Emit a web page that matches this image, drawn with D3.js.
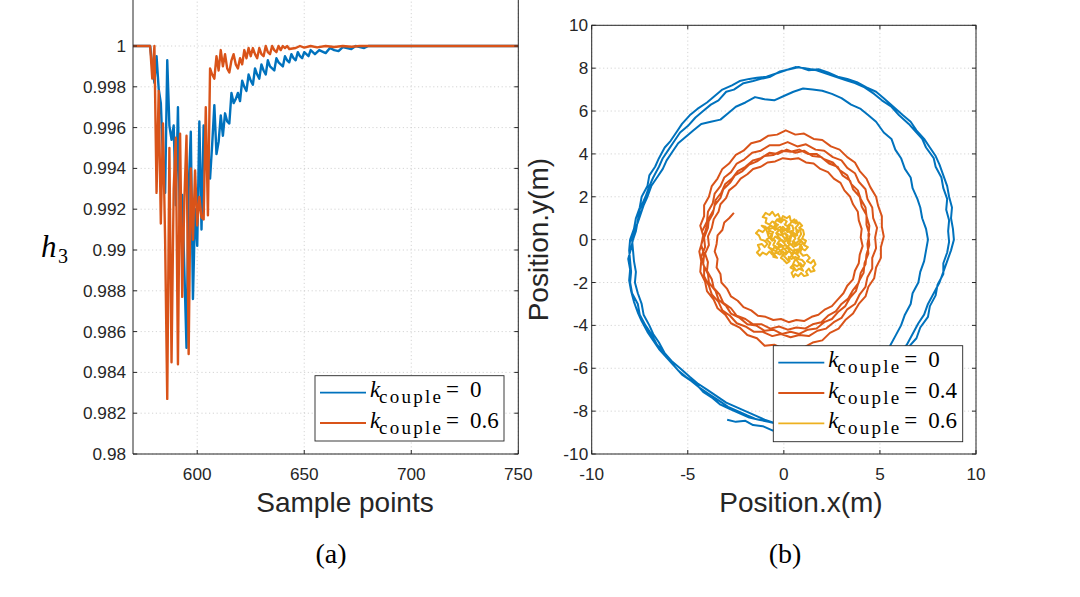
<!DOCTYPE html>
<html><head><meta charset="utf-8">
<script src="https://cdn.jsdelivr.net/npm/d3@7/dist/d3.min.js"></script>
<style>body{margin:0;background:#fff}svg{display:block}</style>
</head><body>
<svg id="c" width="1080" height="597"></svg>
<script>
// ---------- data ----------
const sampleTicks = [600, 650, 700, 750];
const h3Ticks = [0.98, 0.982, 0.984, 0.986, 0.988, 0.99, 0.992, 0.994, 0.996, 0.998, 1];
const h3TickLabels = ["0.98","0.982","0.984","0.986","0.988","0.99","0.992","0.994","0.996","0.998","1"];
const posXTicks = [-10, -5, 0, 5, 10];
const posXTickLabels = ["-10","-5","0","5","10"];
const posYTicks = [-10, -8, -6, -4, -2, 0, 2, 4, 6, 8, 10];
const posYTickLabels = ["-10","-8","-6","-4","-2","0","2","4","6","8","10"];

// h3 vs sample points, k_couple = 0
const h3K0 = [[570,1],[578,1],[579,0.9990],[580,0.9982],[581,0.9995],[582,0.9979],[583,0.9972],[584,0.9945],[585,0.9928],[586,0.9993],[587,0.9961],[588,0.9954],[589,0.9961],[590,0.9922],[591,0.9970],[592,0.9905],[593,0.9927],[594,0.9890],[595,0.9852],[596,0.9930],[597,0.9958],[598,0.9876],[599,0.9920],[600,0.9902],[601,0.9963],[602,0.9910],[603,0.9961],[604,0.9940],[605,0.9948],[606,0.9935],[607,0.9952],[608,0.9971],[609,0.9947],[610,0.9953],[611,0.9966],[612,0.9956],[613,0.9967],[614,0.9963],[615,0.9962],[616,0.9977],[617,0.9972],[618,0.9974],[619,0.9977],[620,0.9973],[621,0.9983],[622,0.9980],[623,0.9978],[624,0.9986],[625,0.9983],[626,0.9981],[627,0.9989],[628,0.9986],[629,0.9984],[630,0.9991],[631,0.9988],[632,0.9986],[633,0.9993],[634,0.9990],[635,0.9989],[636,0.9988],[637,0.9994],[638,0.9992],[639,0.9991],[640,0.9990],[641,0.9995],[642,0.9993],[643,0.9992],[644,0.9996],[645,0.9994],[646,0.9993],[647,0.9997],[648,0.9995],[649,0.9994],[650,0.9997],[651,0.9996],[652,0.9995],[653,0.9998],[654,0.9997],[655,0.9996],[657,0.9998],[658,0.99975],[660,0.99965],[662,0.9999],[664,0.9998],[666,0.99975],[668,0.99995],[670,0.9999],[672,0.99985],[674,1.0],[676,0.99995],[678,0.9999],[680,1.0],[750,1.0]];
// h3 vs sample points, k_couple = 0.6
const h3K06 = [[570,1],[578,1],[579,0.9984],[580,1.0],[581,0.9928],[582,0.9978],[583,0.9913],[584,0.9962],[585,0.9905],[586,0.9827],[587,0.9950],[588,0.9845],[589,0.9930],[590,0.9955],[591,0.9844],[592,0.9957],[593,0.9877],[594,0.9925],[595,0.9956],[596,0.9849],[597,0.9940],[598,0.9905],[599,0.9939],[600,0.9912],[601,0.9926],[602,0.9916],[603,0.9915],[604,0.9970],[605,0.9917],[606,0.9989],[607,0.9986],[608,0.9984],[609,0.9995],[610,0.9988],[611,0.9998],[612,0.9990],[613,0.9996],[614,0.9989],[615,0.9987],[616,0.9993],[617,0.9996],[618,0.9991],[619,0.9989],[620,0.9994],[621,0.9991],[622,0.9998],[623,0.9994],[624,0.9999],[625,0.9995],[626,0.9999],[627,0.9996],[628,0.9994],[629,0.9999],[630,0.9996],[631,0.9995],[632,1.0],[633,0.9997],[634,0.9996],[635,1.0],[636,0.9998],[637,0.9997],[638,1.0],[639,0.9998],[640,1.0],[641,0.9999],[642,1.0],[643,0.99985],[646,0.9999],[648,1.0],[650,0.99992],[653,1.0],[656,0.99993],[660,1.0],[664,0.99995],[668,1.0],[672,0.99996],[676,1.0],[750,1.0]];

// trajectory, k_couple = 0 (x, y in metres)
const trajK0 = [[-2.95,-8.4],[-2.5,-8.5],[-2.0,-8.45],[-1.6,-8.65],[-1.1,-8.7],[-0.6,-8.9],[-0.1,-8.85],[0.4,-9.0],[0.9,-8.95],[1.4,-8.8],[1.9,-8.7],[2.4,-8.4],[2.9,-8.25],[3.3,-7.9],[3.8,-7.7],[4.2,-7.3],[4.7,-7.0],[5.1,-6.6],[5.5,-6.3],[5.9,-5.8],[6.2,-5.5],[6.5,-5.0],[6.9,-4.6],[7.1,-4.1],[7.5,-3.6],[7.6,-3.1],[7.9,-2.6],[8.0,-2.1],[8.3,-1.6],[8.3,-1.1],[8.5,-0.6],[8.6,-0.1],[8.55,0.4],[8.6,0.9],[8.45,1.4],[8.5,1.9],[8.3,2.4],[8.2,2.9],[7.9,3.4],[7.8,3.8],[7.4,4.3],[7.2,4.7],[6.8,5.1],[6.5,5.4],[6.0,5.8],[5.6,6.2],[5.1,6.5],[4.7,6.8],[4.2,7.1],[3.7,7.3],[3.2,7.45],[2.7,7.6],[2.2,7.75],[1.7,7.9],[1.1,8.0],[0.6,8.05],[0.1,7.9],[-0.4,7.75],[-0.9,7.6],[-1.4,7.55],[-1.8,7.5],[-2.3,7.4],[-2.7,7.2],[-3.2,7.0],[-3.6,6.7],[-4.0,6.4],[-4.5,6.1],[-4.9,5.8],[-5.3,5.4],[-5.6,5.0],[-5.9,4.6],[-6.2,4.3],[-6.5,3.8],[-6.7,3.4],[-7.0,3.0],[-7.1,2.5],[-7.4,2.0],[-7.5,1.5],[-7.7,1.0],[-7.8,0.5],[-8.0,0.0],[-8.05,-0.5],[-8.0,-1.0],[-7.95,-1.5],[-8.0,-2.0],[-7.9,-2.5],[-7.6,-3.0],[-7.5,-3.5],[-7.2,-4.0],[-6.9,-4.4],[-6.6,-4.9],[-6.3,-5.2],[-5.9,-5.7],[-5.5,-6.1],[-5.1,-6.4],[-4.6,-6.7],[-4.2,-7.1],[-3.7,-7.4],[-3.3,-7.7],[-2.8,-7.9],[-2.3,-8.1],[-1.8,-8.3],
 [-1.3,-8.4],[-0.8,-8.5],[-0.3,-8.6],[0.2,-8.65],[0.7,-8.6],[1.2,-8.5],[1.7,-8.3],[2.2,-8.1],[2.7,-7.8],[3.1,-7.5],[3.6,-7.1],[4.0,-6.8],[4.4,-6.3],[4.8,-5.9],[5.2,-5.4],[5.5,-5.0],[5.8,-4.5],[6.1,-4.0],[6.3,-3.5],[6.6,-3.0],[6.7,-2.5],[7.0,-2.0],[7.1,-1.5],[7.3,-1.0],[7.4,-0.5],[7.5,0.0],[7.4,0.5],[7.2,1.0],[7.1,1.5],[6.95,1.9],[6.7,2.4],[6.6,2.9],[6.3,3.3],[6.1,3.8],[5.8,4.2],[5.6,4.7],[5.2,5.0],[4.8,5.5],[4.4,5.8],[4.0,6.1],[3.5,6.3],[3.0,6.6],[2.5,6.8],[2.0,6.95],[1.5,7.0],[1.0,7.05],[0.5,6.9],[0.0,6.7],[-0.5,6.5],[-1.0,6.55],[-1.5,6.65],[-2.0,6.4],[-2.5,6.2],[-2.9,5.9],[-3.3,5.6],[-3.8,5.5],[-4.3,5.4],[-4.7,5.1],[-5.1,4.8],[-5.5,4.5],[-5.8,4.1],[-6.1,3.7],[-6.3,3.3],[-6.6,2.9],[-6.9,2.5],[-7.1,2.0],[-7.3,1.6],[-7.45,1.2],[-7.6,0.8],[-7.8,0.4],[-7.9,0.0],[-7.85,-0.5],[-7.8,-1.0],[-7.7,-1.5],[-7.75,-2.0],[-7.6,-2.5],[-7.4,-3.0],[-7.3,-3.5],[-7.0,-4.0],[-6.8,-4.4],[-6.5,-4.8],[-6.2,-5.3],[-5.8,-5.7],[-5.4,-6.0],[-4.9,-6.4],[-4.5,-6.7],[-4.0,-7.0],[-3.5,-7.3],[-3.0,-7.6],[-2.5,-7.8],[-2.0,-8.0],[-1.5,-8.2],
 [-1.0,-8.4],[-0.5,-8.55],[0.0,-8.75],[0.5,-8.8],[1.0,-8.7],[1.5,-8.6],[2.0,-8.5],[2.5,-8.3],[3.0,-8.0],[3.5,-7.7],[4.0,-7.4],[4.4,-7.0],[4.9,-6.6],[5.3,-6.2],[5.7,-5.8],[6.0,-5.3],[6.4,-4.9],[6.7,-4.4],[7.0,-3.9],[7.3,-3.5],[7.5,-3.0],[7.8,-2.5],[8.1,-2.0],[8.3,-1.5],[8.5,-1.0],[8.7,-0.5],[8.85,0.0],[8.8,0.5],[8.7,1.0],[8.75,1.5],[8.6,2.0],[8.5,2.5],[8.3,3.0],[8.1,3.5],[7.9,3.9],[7.6,4.3],[7.3,4.7],[6.9,5.1],[6.6,5.5],[6.2,5.8],[5.7,6.2],[5.2,6.6],[4.8,6.9],[4.3,7.1],[3.8,7.35],[3.3,7.5],[2.8,7.6],[2.3,7.8],[1.8,7.95],[1.3,7.9],[0.8,8.05],[0.3,7.95],[-0.2,7.85],[-0.7,7.6],[-1.2,7.5],[-1.6,7.4],[-2.1,7.3],[-2.6,7.0],[-3.0,6.9],[-3.4,6.5],[-3.8,6.3],[-4.2,6.0],[-4.6,5.7],[-5.0,5.3],[-5.4,5.0],[-5.7,4.6],[-6.0,4.2],[-6.3,3.8],[-6.5,3.4],[-6.8,2.9],[-7.0,2.5],[-7.2,2.0],[-7.5,1.4],[-7.6,0.9],[-7.7,0.4],[-7.85,0.0],[-7.95,-0.4],[-8.1,-0.9],[-8.0,-1.4],[-8.05,-1.9],[-7.95,-2.4],[-7.8,-2.9],[-7.6,-3.4],[-7.4,-3.8],[-7.1,-4.3],[-6.8,-4.7],[-6.5,-5.1],[-6.1,-5.5],[-5.7,-5.9],[-5.3,-6.3],[-4.8,-6.6],[-4.4,-6.9],[-3.9,-7.2],[-3.4,-7.5],[-2.9,-7.8],[-2.4,-8.0],[-1.9,-8.2],[-1.5,-8.35]];

// trajectory, k_couple = 0.4
const trajK04 = [[-2.6,1.25],[-2.85,1.0],[-3.1,0.8],[-3.2,0.45],[-3.45,0.2],[-3.5,-0.2],[-3.6,-0.55],[-3.45,-0.9],[-3.5,-1.3],[-3.3,-1.6],[-3.25,-2.0],[-2.95,-2.3],[-2.75,-2.65],[-2.4,-2.85],[-2.1,-3.15],[-1.7,-3.3],[-1.35,-3.55],[-0.95,-3.6],[-0.55,-3.75],[-0.15,-3.7],[0.25,-3.85],[0.65,-3.75],[1.05,-3.8],[1.45,-3.6],[1.8,-3.5],[2.15,-3.25],[2.5,-3.1],[2.8,-2.8],[3.1,-2.5],[3.3,-2.15],[3.6,-1.85],[3.7,-1.45],[3.9,-1.1],[3.95,-0.7],[4.1,-0.3],[4.0,0.1],[4.05,0.5],[3.9,0.9],[3.85,1.3],[3.6,1.65],[3.45,2.0],[3.15,2.3],[2.95,2.65],[2.6,2.85],[2.3,3.15],[1.9,3.3],[1.55,3.55],[1.15,3.6],[0.75,3.8],[0.35,3.75],[-0.05,3.8],[-0.45,3.65],[-0.85,3.6],[-1.2,3.4],[-1.6,3.3],[-1.9,3.05],[-2.25,2.85],[-2.5,2.55],[-2.85,2.3],[-3.0,1.95],[-3.3,1.65],[-3.4,1.3],[-3.65,0.95],
 [-3.75,0.55],[-3.95,0.15],[-3.9,-0.25],[-4.1,-0.65],[-3.95,-1.05],[-4.0,-1.45],[-3.75,-1.85],[-3.65,-2.25],[-3.35,-2.55],[-3.15,-2.95],[-2.75,-3.2],[-2.45,-3.55],[-2.0,-3.7],[-1.6,-3.95],[-1.15,-3.95],[-0.7,-4.15],[-0.25,-4.05],[0.2,-4.2],[0.65,-4.1],[1.1,-4.15],[1.5,-3.95],[1.95,-3.85],[2.3,-3.55],[2.7,-3.35],[3.0,-3.0],[3.35,-2.75],[3.6,-2.35],[3.9,-2.0],[4.0,-1.55],[4.25,-1.15],[4.3,-0.7],[4.45,-0.25],[4.4,0.2],[4.45,0.65],[4.3,1.1],[4.25,1.5],[4.0,1.9],[3.85,2.3],[3.5,2.6],[3.3,3.0],[2.9,3.25],[2.55,3.6],[2.1,3.75],[1.7,4.0],[1.25,4.0],[0.8,4.2],[0.35,4.1],[-0.1,4.15],[-0.55,3.95],[-1.0,3.9],[-1.4,3.65],[-1.8,3.5],[-2.15,3.2],[-2.55,3.0],[-2.8,2.65],[-3.15,2.35],[-3.3,1.95],[-3.6,1.6],[-3.7,1.2],[-3.95,0.8],
 [-4.1,0.35],[-4.25,-0.1],[-4.4,-0.55],[-4.3,-1.0],[-4.35,-1.5],[-4.1,-1.95],[-4.0,-2.4],[-3.65,-2.8],[-3.45,-3.2],[-3.05,-3.5],[-2.75,-3.9],[-2.3,-4.1],[-1.9,-4.45],[-1.4,-4.6],[-1.0,-4.95],[-0.5,-4.9],[0.0,-5.1],[0.5,-5.0],[1.0,-5.05],[1.5,-4.8],[2.0,-4.7],[2.4,-4.35],[2.85,-4.15],[3.2,-3.75],[3.6,-3.45],[3.9,-3.0],[4.25,-2.65],[4.4,-2.2],[4.7,-1.8],[4.8,-1.3],[5.05,-0.85],[5.05,-0.35],[5.2,0.15],[5.1,0.6],[5.1,1.1],[4.9,1.6],[4.8,2.0],[4.5,2.45],[4.3,2.85],[3.95,3.2],[3.7,3.6],[3.3,3.85],[2.9,4.2],[2.45,4.35],[2.0,4.65],[1.55,4.7],[1.05,4.95],[0.6,4.9],[0.1,5.1],[-0.35,4.9],[-0.8,4.85],[-1.25,4.6],[-1.7,4.5],[-2.1,4.15],[-2.5,3.95],[-2.85,3.55],[-3.2,3.3],[-3.45,2.85],[-3.75,2.5],[-3.9,2.0],[-4.15,1.6],[-4.15,1.1],[-4.35,0.65],
 [-4.2,0.2],[-4.3,-0.25],[-4.15,-0.7],[-4.2,-1.15],[-3.95,-1.6],[-3.9,-2.0],[-3.55,-2.4],[-3.4,-2.8],[-3.0,-3.1],[-2.75,-3.45],[-2.3,-3.65],[-1.9,-3.95],[-1.45,-4.0],[-1.0,-4.25],[-0.55,-4.2],[-0.1,-4.4],[0.35,-4.3],[0.8,-4.4],[1.25,-4.2],[1.7,-4.15],[2.1,-3.85],[2.5,-3.7],[2.85,-3.35],[3.2,-3.1],[3.45,-2.7],[3.75,-2.4],[3.9,-1.95],[4.15,-1.55],[4.2,-1.1],[4.4,-0.65],[4.35,-0.2],[4.45,0.25],[4.3,0.7],[4.3,1.15],[4.05,1.55],[3.95,2.0],[3.6,2.35],[3.45,2.75],[3.05,3.0],[2.8,3.4],[2.35,3.55],[1.95,3.85],[1.5,3.9],[1.05,4.15],[0.6,4.05],[0.15,4.2],[-0.3,4.0],[-0.75,4.05],[-1.2,3.8],[-1.6,3.7],[-2.0,3.4],[-2.4,3.2],[-2.7,2.85],[-3.05,2.6],[-3.25,2.2],[-3.55,1.85],[-3.65,1.4],[-3.9,1.0],
 [-3.95,0.55],[-4.15,0.1],[-4.1,-0.35],[-4.3,-0.8],[-4.15,-1.25],[-4.15,-1.7],[-3.9,-2.15],[-3.75,-2.55],[-3.4,-2.9],[-3.2,-3.3],[-2.8,-3.55],[-2.45,-3.9],[-2.0,-4.05],[-1.55,-4.3],[-1.1,-4.3],[-0.6,-4.5],[-0.15,-4.4],[0.35,-4.55],[0.8,-4.45],[1.3,-4.5],[1.75,-4.25],[2.2,-4.15],[2.6,-3.85],[3.0,-3.65],[3.3,-3.25],[3.7,-3.0],[3.95,-2.55],[4.25,-2.2],[4.35,-1.75],[4.6,-1.35],[4.6,-0.85],[4.8,-0.4],[4.75,0.1],[4.85,0.55],[4.65,1.0],[4.6,1.5],[4.35,1.9],[4.25,2.35],[3.9,2.7],[3.7,3.1],[3.3,3.35],[3.0,3.7],[2.55,3.85],[2.1,4.15],[1.65,4.2],[1.15,4.45],[0.7,4.35],[0.2,4.55],[-0.25,4.4],[-0.75,4.4],[-1.2,4.15],[-1.65,4.05],[-2.05,3.75],[-2.45,3.55],[-2.75,3.15],[-3.1,2.9],[-3.3,2.5],[-3.6,2.15],[-3.7,1.7],[-3.95,1.3],[-4.0,0.85],[-4.25,0.4]];

// trajectory, k_couple = 0.6
const trajK06 = [[0.0,0.0],[0.15,0.1],[0.1,0.3],[-0.1,0.25],[-0.2,0.45],[-0.05,0.6],[0.1,0.45],[0.3,0.5],[0.25,0.7],[0.45,0.65],[0.5,0.45],[0.35,0.3],[0.5,0.15],[0.7,0.2],[0.65,0.4],[0.85,0.45],[0.9,0.25],[0.75,0.05],[0.9,-0.1],[0.7,-0.25],[0.55,-0.1],[0.4,-0.25],[0.2,-0.15],[0.25,0.05],[0.05,-0.1],[-0.15,0.0],[-0.3,-0.15],[-0.2,-0.35],[-0.4,-0.4],[-0.55,-0.25],[-0.45,-0.05],[-0.65,0.05],[-0.6,0.25],[-0.8,0.3],[-0.75,0.5],[-0.55,0.55],[-0.4,0.75],[-0.6,0.85],[-0.75,0.7],[-0.95,0.8],[-0.9,1.0],[-1.1,1.05],[-0.95,1.25],[-0.75,1.15],[-0.6,1.3],[-0.45,1.1],[-0.3,1.2],[-0.2,1.0],[-0.35,0.9],[-0.15,0.8],[0.0,0.95],[0.15,0.85],[0.05,0.7],[0.25,0.6],[0.4,0.85],[0.55,0.95],[0.6,0.75],[0.8,0.8],[0.95,0.65],[0.8,0.55],[1.0,0.45],[1.05,0.25],[0.95,0.05],[1.15,-0.05],[1.05,-0.25],[1.25,-0.35],[1.1,-0.5],[0.9,-0.4],[0.75,-0.55],[0.55,-0.45],[0.45,-0.65],[0.25,-0.55],[0.1,-0.7],[-0.05,-0.55],[-0.2,-0.7],[-0.4,-0.6],[-0.6,-0.7],[-0.75,-0.55],[-0.9,-0.7],[-1.1,-0.6],[-1.25,-0.75],[-1.4,-0.6],[-1.25,-0.45],[-1.35,-0.25],[-1.15,-0.2],[-1.0,-0.35],[-0.85,-0.2],[-1.0,-0.05],[-1.2,0.0],[-1.3,0.2],[-1.45,0.3],[-1.3,0.45],[-1.1,0.35],[-0.95,0.5],[-1.15,0.65],[-0.95,0.6],[-0.8,0.15],[-0.6,-0.05],[-0.45,0.15],[-0.3,0.05],[-0.35,0.3],[-0.15,0.2],[0.05,0.3],[0.2,0.2],[0.15,-0.05],[0.35,-0.05],[0.3,0.15],[0.5,0.3],[0.6,0.05],[0.45,-0.1],[0.6,-0.3],[0.8,-0.2],[0.95,-0.35],[0.85,-0.6],[1.0,-0.75],[1.2,-0.7],[1.35,-0.85],[1.2,-1.0],[1.4,-1.1],[1.55,-0.95],[1.65,-1.15],[1.5,-1.3],[1.6,-1.45],[1.4,-1.5],[1.3,-1.35],[1.15,-1.5],[1.25,-1.65],[1.05,-1.7],[0.9,-1.55],[0.75,-1.7],[0.6,-1.6],[0.5,-1.75],[0.4,-1.55],[0.55,-1.4],[0.35,-1.3],[0.5,-1.15],[0.7,-1.25],[0.85,-1.1],[1.0,-1.25],[1.1,-1.1],[0.95,-0.95],[0.75,-0.9],[0.6,-0.8],[0.4,-0.9],[0.25,-0.8],[0.3,-1.0],[0.15,-1.1],[0.0,-0.95],[-0.15,-0.85],[-0.05,-0.7],[0.15,-0.55],[0.0,-0.4],[-0.15,-0.5],[-0.3,-0.6],[-0.5,-0.5],[-0.7,-0.4],[-0.55,-0.65],[-0.35,-0.85],[-0.55,-0.8],[-0.35,-0.45],[-0.2,-0.2],[-0.05,-0.3],[0.1,-0.25],[0.3,-0.4],[0.5,-0.55],[0.7,-0.45],[0.65,-0.65],[0.8,-0.8],[0.55,-1.0],[0.45,-1.2],[0.65,-1.45],[0.8,-1.35],[1.0,-1.45],
 [0.85,-1.2],[0.7,-1.0],[0.5,-0.85],[0.35,-0.6],[0.2,-0.4],[0.05,-0.2],[-0.1,-0.05],[-0.25,0.1],[-0.4,0.3],[-0.25,0.45],[-0.45,0.55],[-0.3,0.7],[-0.5,0.75],[-0.35,0.95],[-0.15,0.9],[-0.05,1.1],[0.15,1.0],[0.3,1.1],[0.35,0.9],[0.5,0.8],[0.65,0.9],[0.75,0.7],[0.6,0.55],[0.75,0.35],[0.6,0.25],[0.4,0.4],[0.2,0.35],[0.05,0.5],[-0.1,0.4],[-0.05,0.15],[0.1,0.05],[0.3,-0.15],[0.5,-0.35],[0.65,-0.15],[0.85,0.0],[1.0,-0.15],[0.85,-0.3],[0.7,-0.7],[0.55,-0.6],[0.35,-0.8],[0.2,-0.95],[0.05,-0.8],[-0.1,-0.65],[-0.25,-0.45],[-0.45,-0.3],[-0.6,-0.5],[-0.8,-0.35],[-0.7,-0.15],[-0.9,0.0],[-0.75,0.1],[-0.55,0.35],[-0.7,0.4],[-0.85,0.55],[-0.65,0.65],[-0.45,0.45],[-0.2,0.6],[0.0,0.4],[0.2,0.55],[0.4,0.2],[0.25,-0.3],[0.05,-0.45],[-0.15,-0.3],[-0.35,-0.2],[-0.2,0.0]];

const legendA = ["0", "0.6"];
const legendB = ["0", "0.4", "0.6"];
const seriesColors = ["#0072BD", "#D95319", "#EDB120"];

// ---------- drawing ----------
const svg = d3.select("#c");
const axisCol = "#262626";
const sansF = "'Liberation Sans', Arial, Helvetica, sans-serif";
const serifF = "'Liberation Serif', 'Times New Roman', serif";

function grid(g, xs, ys, x0, x1, y0, y1) {
  g.selectAll(null).data(xs).enter().append("line")
    .attr("x1", d => d).attr("x2", d => d).attr("y1", y0).attr("y2", y1)
    .attr("stroke", "#c9c9c9").attr("stroke-width", 0.8).attr("stroke-dasharray", "1.2,2.6");
  g.selectAll(null).data(ys).enter().append("line")
    .attr("y1", d => d).attr("y2", d => d).attr("x1", x0).attr("x2", x1)
    .attr("stroke", "#c9c9c9").attr("stroke-width", 0.8).attr("stroke-dasharray", "1.2,2.6");
}

function legendItem(g, bx, rowY, color, val) {
  g.append("line").attr("x1", bx + 5).attr("x2", bx + 51).attr("y1", rowY).attr("y2", rowY)
    .attr("stroke", color).attr("stroke-width", 1.8);
  g.append("text").attr("x", bx + 55).attr("y", rowY + 4.5).attr("font-family", serifF)
    .attr("font-style", "italic").attr("font-size", 23).attr("fill", "#000").text("k");
  g.append("text").attr("x", bx + 64).attr("y", rowY + 10.5).attr("font-family", serifF)
    .attr("font-size", 19).attr("fill", "#000").attr("textLength", 62).attr("lengthAdjust", "spacing").text("couple");
  g.append("text").attr("x", bx + 131).attr("y", rowY + 4.5).attr("font-family", serifF)
    .attr("font-size", 23).attr("fill", "#000").text("=");
  g.append("text").attr("x", bx + 155).attr("y", rowY + 4.5).attr("font-family", serifF)
    .attr("font-size", 23).attr("fill", "#000").text(val);
}

// ===== Panel (a) =====
const xA = d3.scaleLinear().domain([570, 750]).range([133, 518.3]);
const yA = d3.scaleLinear().domain([0.98, 1]).range([454, 46]);
const gA = svg.append("g");
const topA = -6;
grid(gA, sampleTicks.map(xA), h3Ticks.map(yA), xA(570), xA(750), topA, yA(0.98));

svg.append("clipPath").attr("id", "clipA").append("rect")
  .attr("x", xA(570)).attr("y", topA).attr("width", xA(750) - xA(570)).attr("height", yA(0.98) - topA);
const lineA = d3.line().x(d => xA(d[0])).y(d => yA(d[1]));
const plotA = gA.append("g").attr("clip-path", "url(#clipA)");
[h3K0, h3K06].forEach((s, i) => {
  plotA.append("path").attr("d", lineA(s)).attr("fill", "none")
    .attr("stroke", seriesColors[i]).attr("stroke-width", 2.4).attr("stroke-linejoin", "round");
});

const axA = gA.append("g").attr("stroke", axisCol).attr("stroke-width", 1);
axA.append("line").attr("x1", xA(570)).attr("x2", xA(570)).attr("y1", topA).attr("y2", yA(0.98));
axA.append("line").attr("x1", xA(750)).attr("x2", xA(750)).attr("y1", topA).attr("y2", yA(0.98));
axA.append("line").attr("x1", xA(570)).attr("x2", xA(750)).attr("y1", yA(0.98)).attr("y2", yA(0.98));
h3Ticks.forEach(t => {
  axA.append("line").attr("x1", xA(570)).attr("x2", xA(570) + 4).attr("y1", yA(t)).attr("y2", yA(t));
  axA.append("line").attr("x1", xA(750)).attr("x2", xA(750) - 4).attr("y1", yA(t)).attr("y2", yA(t));
});
sampleTicks.forEach(t => {
  axA.append("line").attr("x1", xA(t)).attr("x2", xA(t)).attr("y1", yA(0.98)).attr("y2", yA(0.98) - 4);
});
gA.selectAll(null).data(h3Ticks).enter().append("text")
  .attr("x", xA(570) - 7).attr("y", d => yA(d) + 6).attr("text-anchor", "end")
  .attr("font-family", sansF).attr("font-size", 17.2).attr("fill", axisCol)
  .text((d, i) => h3TickLabels[i]);
gA.selectAll(null).data(sampleTicks).enter().append("text")
  .attr("x", d => xA(d)).attr("y", 480).attr("text-anchor", "middle")
  .attr("font-family", sansF).attr("font-size", 17.2).attr("fill", axisCol).text(d => d);
gA.append("text").attr("x", 345).attr("y", 512).attr("text-anchor", "middle")
  .attr("font-family", sansF).attr("font-size", 28).attr("fill", axisCol).text("Sample points");
gA.append("text").attr("x", 41).attr("y", 257).attr("font-family", serifF).attr("font-style", "italic")
  .attr("font-size", 31).attr("fill", "#000").text("h");
gA.append("text").attr("x", 58).attr("y", 263).attr("font-family", serifF)
  .attr("font-size", 20).attr("fill", "#000").text("3");
const lgA = gA.append("g");
lgA.append("rect").attr("x", 315).attr("y", 375.7).attr("width", 189).attr("height", 65.3)
  .attr("fill", "#fff").attr("stroke", axisCol).attr("stroke-width", 0.9);
legendA.forEach((v, i) => legendItem(lgA, 315, 392.7 + i * 30.3, seriesColors[i], v));
svg.append("text").attr("x", 331).attr("y", 563).attr("text-anchor", "middle")
  .attr("font-family", serifF).attr("font-size", 28).attr("fill", "#000").text("(a)");

// ===== Panel (b) =====
const xB = d3.scaleLinear().domain([-10, 10]).range([591.7, 976]);
const yB = d3.scaleLinear().domain([-10, 10]).range([454, 25.3]);
const gB = svg.append("g");
grid(gB, posXTicks.map(xB), posYTicks.map(yB), xB(-10), xB(10), yB(10), yB(-10));
svg.append("clipPath").attr("id", "clipB").append("rect")
  .attr("x", xB(-10)).attr("y", yB(10)).attr("width", xB(10) - xB(-10)).attr("height", yB(-10) - yB(10));
const lineB = d3.line().x(d => xB(d[0])).y(d => yB(d[1]));
const plotB = gB.append("g").attr("clip-path", "url(#clipB)");
[trajK0, trajK04, trajK06].forEach((s, i) => {
  plotB.append("path").attr("d", lineB(s)).attr("fill", "none")
    .attr("stroke", seriesColors[i]).attr("stroke-width", 2).attr("stroke-linejoin", "round");
});
const axB = gB.append("g").attr("stroke", axisCol).attr("stroke-width", 1);
axB.append("rect").attr("x", xB(-10)).attr("y", yB(10)).attr("width", xB(10) - xB(-10))
  .attr("height", yB(-10) - yB(10)).attr("fill", "none");
posXTicks.forEach(t => {
  axB.append("line").attr("x1", xB(t)).attr("x2", xB(t)).attr("y1", yB(-10)).attr("y2", yB(-10) - 4);
  axB.append("line").attr("x1", xB(t)).attr("x2", xB(t)).attr("y1", yB(10)).attr("y2", yB(10) + 4);
});
posYTicks.forEach(t => {
  axB.append("line").attr("x1", xB(-10)).attr("x2", xB(-10) + 4).attr("y1", yB(t)).attr("y2", yB(t));
  axB.append("line").attr("x1", xB(10)).attr("x2", xB(10) - 4).attr("y1", yB(t)).attr("y2", yB(t));
});
gB.selectAll(null).data(posYTicks).enter().append("text")
  .attr("x", xB(-10) - 3.5).attr("y", d => yB(d) + 6).attr("text-anchor", "end")
  .attr("font-family", sansF).attr("font-size", 17.2).attr("fill", axisCol)
  .text((d, i) => posYTickLabels[i]);
gB.selectAll(null).data(posXTicks).enter().append("text")
  .attr("x", d => xB(d)).attr("y", 480).attr("text-anchor", "middle")
  .attr("font-family", sansF).attr("font-size", 17.2).attr("fill", axisCol)
  .text((d, i) => posXTickLabels[i]);
gB.append("text").attr("x", 801).attr("y", 512).attr("text-anchor", "middle")
  .attr("font-family", sansF).attr("font-size", 28).attr("fill", axisCol).text("Position.x(m)");
gB.append("text").attr("transform", `translate(548,${yB(0)}) rotate(-90)`).attr("text-anchor", "middle")
  .attr("font-family", sansF).attr("font-size", 28).attr("fill", axisCol).text("Position.y(m)");
const lgB = gB.append("g");
lgB.append("rect").attr("x", 773.3).attr("y", 345.7).attr("width", 189.4).attr("height", 96)
  .attr("fill", "#fff").attr("stroke", axisCol).attr("stroke-width", 0.9);
legendB.forEach((v, i) => legendItem(lgB, 773.3, 362.7 + i * 30.3, seriesColors[i], v));
svg.append("text").attr("x", 785).attr("y", 563).attr("text-anchor", "middle")
  .attr("font-family", serifF).attr("font-size", 28).attr("fill", "#000").text("(b)");
</script>
</body></html>
